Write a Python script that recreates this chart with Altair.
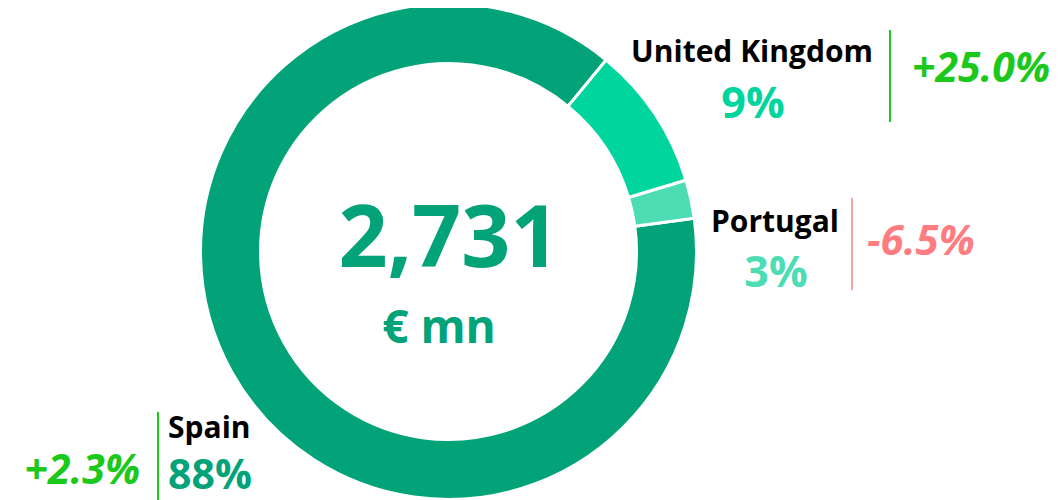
import math
import altair as alt
import pandas as pd

# ---- data ----
regions = ["Spain", "United Kingdom", "Portugal"]
shares = [88.1, 9.4, 2.5]
share_labels = ["88%", "9%", "3%"]
growth_labels = ["+2.3%", "+25.0%", "-6.5%"]
total_label = "2,731"
unit_label = "€ mn"

slice_colors = ["#02A379", "#00D59E", "#4DDDB5"]
growth_colors = ["#1DC81D", "#1DC81D", "#FF7C80"]
line_colors = ["#1DC81D", "#1DC81D", "#F4A3A3"]

FONT = "Open Sans"

df = pd.DataFrame({"region": regions, "share": shares, "order": [0, 1, 2]})

start = math.radians(82.3)
CX, CY = 440.5, 243.5

donut = alt.Chart(df).mark_arc(
    innerRadius=188, outerRadius=248, stroke="white", strokeWidth=3
).encode(
    theta=alt.Theta("share:Q", stack=True,
                    scale=alt.Scale(range=[start, start + 2 * math.pi])),
    color=alt.Color("region:N", scale=alt.Scale(domain=regions, range=slice_colors), legend=None),
    order=alt.Order("order:Q"),
    x=alt.value(CX),
    y=alt.value(CY),
)

layers = [donut]

def txt(text, x, y, size, color, align="center", style="normal"):
    return alt.Chart(pd.DataFrame({"t": [text]})).mark_text(
        font=FONT, fontWeight="bold", fontSize=size, color=color,
        align=align, baseline="alphabetic", fontStyle=style
    ).encode(text="t:N", x=alt.value(x), y=alt.value(y))

def vline(x, y1, y2, color):
    return alt.Chart(pd.DataFrame({"a": [0]})).mark_rule(color=color, strokeWidth=2).encode(
        x=alt.value(x), y=alt.value(y1), y2=alt.value(y2))

# center
layers.append(txt(total_label, 441, 259, 86, slice_colors[0]))
layers.append(txt(unit_label, 431, 335, 46, slice_colors[0]))

# United Kingdom
layers.append(txt(regions[1], 744, 54, 30, "black"))
layers.append(txt(share_labels[1], 745, 110, 43, slice_colors[1]))
layers.append(vline(882, 22, 114, line_colors[1]))
layers.append(txt(growth_labels[1], 904, 74, 41, growth_colors[1], align="left", style="italic"))

# Portugal
layers.append(txt(regions[2], 767, 224, 30, "black"))
layers.append(txt(share_labels[2], 768, 279, 43, slice_colors[2]))
layers.append(vline(844, 190, 282, line_colors[2]))
layers.append(txt(growth_labels[2], 859, 247, 42, growth_colors[2], align="left", style="italic"))

# Spain
layers.append(txt(regions[0], 160, 430, 30, "black", align="left"))
layers.append(txt(share_labels[0], 160, 481, 41, slice_colors[0], align="left"))
layers.append(vline(150, 404, 492, line_colors[0]))
layers.append(txt(growth_labels[0], 132, 476, 41, growth_colors[0], align="right", style="italic"))

chart = alt.layer(*layers).properties(
    width=1043, height=492, padding=0, autosize=alt.AutoSizeParams(type="none")
).configure_view(stroke=None)

chart.save("out.html", embed_options={"renderer": "svg", "actions": False})
